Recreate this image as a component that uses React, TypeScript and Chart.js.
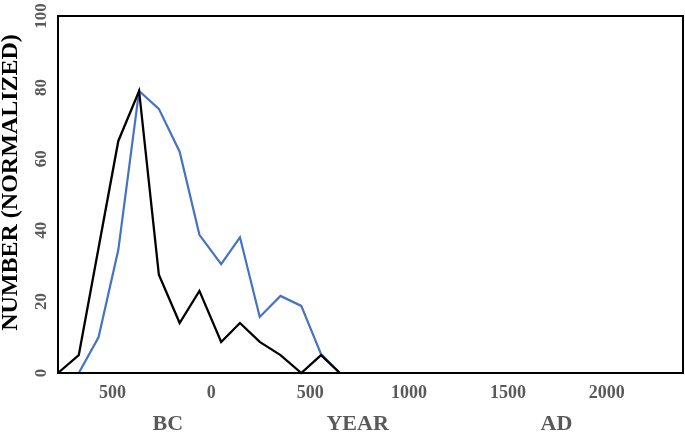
import React, { useEffect, useRef } from 'react';
import { Chart, registerables } from 'chart.js';

Chart.register(...registerables);

// Data
const blackYears = [-775, -670, -570, -470, -365, -265, -160, -60, 50, 145, 245, 350, 455, 555, 650];
const blackValues = [0, 5, 35, 65, 79, 27.5, 14, 23, 8.7, 14, 8.7, 5, 0, 5, 0];
const blueYears = [-670, -570, -470, -365, -265, -160, -60, 50, 145, 245, 350, 455, 555, 650];
const blueValues = [0, 10, 34.5, 79, 74, 62, 38.7, 30.5, 38, 15.7, 21.6, 18.8, 5.3, 0];

const xTickValues = [-500, 0, 500, 1000, 1500, 2000];
const xTickLabels = ['500', '0', '500', '1000', '1500', '2000'];
const eraValues = [-220, 740, 1745];
const eraLabels = ['BC', 'YEAR', 'AD'];

const X_MIN = -775;
const X_MAX = 2385;
const SERIF = "'Times New Roman', 'Liberation Serif', serif";
const GRAY = '#595959';

const borderPlugin = {
  id: 'areaBorder',
  afterDraw(chart: any) {
    const { ctx, chartArea } = chart;
    ctx.save();
    ctx.strokeStyle = '#000';
    ctx.lineWidth = 2;
    ctx.strokeRect(chartArea.left, chartArea.top, chartArea.right - chartArea.left, chartArea.bottom - chartArea.top);
    ctx.restore();
  },
};

export default function App() {
  const ref = useRef<HTMLCanvasElement | null>(null);

  useEffect(() => {
    if (!ref.current) return;
    const chart = new Chart(ref.current, {
      type: 'line',
      data: {
        datasets: [
          {
            label: 'Black',
            data: blackYears.map((x, i) => ({ x, y: blackValues[i] })),
            borderColor: '#000000',
            borderWidth: 2.3,
            pointRadius: 0,
            tension: 0,
            clip: 4,
          },
          {
            label: 'Blue',
            data: blueYears.map((x, i) => ({ x, y: blueValues[i] })),
            borderColor: '#4472C4',
            borderWidth: 2.2,
            pointRadius: 0,
            tension: 0,
            clip: 4,
          },
        ],
      },
      options: {
        animation: false,
        responsive: true,
        maintainAspectRatio: false,
        devicePixelRatio: 1,
        layout: { padding: { top: 16, right: 2, left: 0, bottom: 0 } },
        plugins: {
          legend: { display: false },
          tooltip: { enabled: false },
        },
        scales: {
          x: {
            type: 'linear',
            position: 'bottom',
            min: X_MIN,
            max: X_MAX,
            grid: { display: false, drawTicks: false },
            border: { display: false },
            afterBuildTicks: (s: any) => {
              s.ticks = xTickValues.map((v) => ({ value: v }));
            },
            afterFit: (s: any) => {
              s.height = 34;
            },
            ticks: {
              autoSkip: false,
              maxRotation: 0,
              padding: 10,
              color: GRAY,
              font: { family: SERIF, size: 18, weight: 'bold' },
              callback: (v: any) => xTickLabels[xTickValues.indexOf(Number(v))] ?? '',
            },
          },
          x2: {
            type: 'linear',
            position: 'bottom',
            min: X_MIN,
            max: X_MAX,
            grid: { display: false, drawTicks: false },
            border: { display: false },
            afterBuildTicks: (s: any) => {
              s.ticks = eraValues.map((v) => ({ value: v }));
            },
            afterFit: (s: any) => {
              s.height = 27;
            },
            ticks: {
              autoSkip: false,
              maxRotation: 0,
              padding: 4,
              color: GRAY,
              font: { family: SERIF, size: 22, weight: 'bold' },
              callback: (v: any) => eraLabels[eraValues.indexOf(Number(v))] ?? '',
            },
          },
          y: {
            min: 0,
            max: 100,
            grid: { display: false, drawTicks: false },
            border: { display: false },
            afterFit: (s: any) => {
              s.width = 58;
            },
            ticks: {
              stepSize: 20,
              autoSkip: false,
              minRotation: 90,
              maxRotation: 90,
              crossAlign: 'center',
              padding: 4,
              color: GRAY,
              font: { family: SERIF, size: 17, weight: 'bold' },
            },
            title: {
              display: true,
              text: '    NUMBER (NORMALIZED)',
              color: '#000000',
              padding: 0,
              font: { family: SERIF, size: 24, weight: 'bold', lineHeight: 0.9 },
            },
          },
        },
      },
      plugins: [borderPlugin],
    } as any);
    return () => chart.destroy();
  }, []);

  return (
    <div style={{ position: 'fixed', left: 0, top: 0, width: 685, height: 434, background: '#fff' }}>
      <canvas ref={ref} />
    </div>
  );
}
